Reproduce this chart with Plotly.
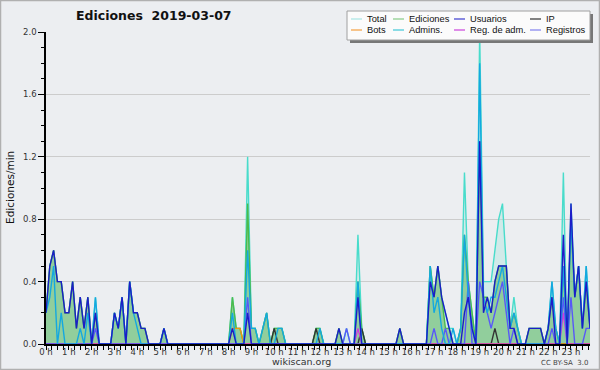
import plotly.graph_objects as go

# 10-minute bins, values in edits/min (144 bins: 0h00 .. 23h50)
hour_labels = [f"{h} h" for h in range(24)]

total = [
    0.2, 0.5, 0.6, 0.4, 0.4, 0.2, 0.2, 0.4, 0.1, 0.3, 0.1, 0.3,
    0.0, 0.3, 0.0, 0.0, 0.0, 0.0, 0.2, 0.1, 0.3, 0.0, 0.4, 0.2,
    0.2, 0.1, 0.1, 0.0, 0.0, 0.0, 0.0, 0.1, 0.0, 0.0, 0.0, 0.0,
    0.0, 0.0, 0.0, 0.0, 0.0, 0.0, 0.0, 0.0, 0.0, 0.0, 0.0, 0.0,
    0.0, 0.3, 0.1, 0.1, 0.0, 1.2, 0.1, 0.1, 0.0, 0.1, 0.2, 0.0,
    0.1, 0.1, 0.1, 0.0, 0.0, 0.0, 0.0, 0.0, 0.0, 0.0, 0.0, 0.1,
    0.1, 0.0, 0.0, 0.0, 0.0, 0.1, 0.0, 0.1, 0.0, 0.0, 0.7, 0.1,
    0.0, 0.0, 0.0, 0.0, 0.0, 0.0, 0.0, 0.0, 0.0, 0.1, 0.0, 0.0,
    0.0, 0.0, 0.0, 0.0, 0.0, 0.5, 0.3, 0.5, 0.3, 0.2, 0.1, 0.1,
    0.0, 0.1, 1.1, 0.4, 0.2, 0.0, 2.0, 0.4, 0.4, 0.4, 0.6, 0.8,
    0.9, 0.5, 0.1, 0.3, 0.1, 0.0, 0.0, 0.1, 0.1, 0.1, 0.1, 0.0,
    0.1, 0.4, 0.1, 0.0, 1.1, 0.0, 0.9, 0.3, 0.5, 0.1, 0.5, 0.1,
]
ediciones = [
    0.2, 0.5, 0.6, 0.4, 0.4, 0.2, 0.2, 0.4, 0.1, 0.3, 0.1, 0.3,
    0.0, 0.2, 0.0, 0.0, 0.0, 0.0, 0.2, 0.1, 0.3, 0.0, 0.4, 0.2,
    0.2, 0.1, 0.1, 0.0, 0.0, 0.0, 0.0, 0.1, 0.0, 0.0, 0.0, 0.0,
    0.0, 0.0, 0.0, 0.0, 0.0, 0.0, 0.0, 0.0, 0.0, 0.0, 0.0, 0.0,
    0.0, 0.3, 0.1, 0.1, 0.0, 0.9, 0.1, 0.1, 0.0, 0.1, 0.2, 0.0,
    0.1, 0.1, 0.1, 0.0, 0.0, 0.0, 0.0, 0.0, 0.0, 0.0, 0.0, 0.1,
    0.1, 0.0, 0.0, 0.0, 0.0, 0.1, 0.0, 0.0, 0.0, 0.0, 0.4, 0.1,
    0.0, 0.0, 0.0, 0.0, 0.0, 0.0, 0.0, 0.0, 0.0, 0.1, 0.0, 0.0,
    0.0, 0.0, 0.0, 0.0, 0.0, 0.5, 0.3, 0.5, 0.3, 0.1, 0.1, 0.0,
    0.0, 0.1, 0.7, 0.4, 0.2, 0.0, 1.3, 0.3, 0.3, 0.2, 0.4, 0.5,
    0.5, 0.5, 0.1, 0.2, 0.1, 0.0, 0.0, 0.1, 0.1, 0.1, 0.1, 0.0,
    0.1, 0.3, 0.1, 0.0, 0.5, 0.0, 0.8, 0.3, 0.5, 0.1, 0.4, 0.1,
]
usuarios = [
    0.2, 0.5, 0.6, 0.4, 0.4, 0.2, 0.2, 0.4, 0.1, 0.3, 0.1, 0.3,
    0.0, 0.2, 0.0, 0.0, 0.0, 0.0, 0.2, 0.1, 0.3, 0.0, 0.4, 0.2,
    0.2, 0.1, 0.1, 0.0, 0.0, 0.0, 0.0, 0.1, 0.0, 0.0, 0.0, 0.0,
    0.0, 0.0, 0.0, 0.0, 0.0, 0.0, 0.0, 0.0, 0.0, 0.0, 0.0, 0.0,
    0.0, 0.1, 0.0, 0.0, 0.0, 0.2, 0.0, 0.0, 0.0, 0.0, 0.0, 0.0,
    0.0, 0.0, 0.0, 0.0, 0.0, 0.0, 0.0, 0.0, 0.0, 0.0, 0.0, 0.0,
    0.0, 0.0, 0.0, 0.0, 0.0, 0.1, 0.0, 0.0, 0.0, 0.0, 0.3, 0.0,
    0.0, 0.0, 0.0, 0.0, 0.0, 0.0, 0.0, 0.0, 0.0, 0.1, 0.0, 0.0,
    0.0, 0.0, 0.0, 0.0, 0.0, 0.4, 0.3, 0.5, 0.3, 0.2, 0.1, 0.0,
    0.0, 0.0, 0.2, 0.3, 0.1, 0.0, 1.3, 0.2, 0.3, 0.2, 0.4, 0.5,
    0.5, 0.5, 0.1, 0.1, 0.0, 0.0, 0.0, 0.1, 0.1, 0.1, 0.1, 0.0,
    0.1, 0.3, 0.0, 0.0, 0.7, 0.0, 0.9, 0.3, 0.5, 0.1, 0.4, 0.1,
]
ip = [
    0.0, 0.0, 0.0, 0.0, 0.0, 0.0, 0.0, 0.0, 0.0, 0.0, 0.0, 0.0,
    0.0, 0.0, 0.0, 0.0, 0.0, 0.0, 0.0, 0.0, 0.0, 0.0, 0.0, 0.0,
    0.0, 0.0, 0.0, 0.0, 0.0, 0.0, 0.0, 0.0, 0.0, 0.0, 0.0, 0.0,
    0.0, 0.0, 0.0, 0.0, 0.0, 0.0, 0.0, 0.0, 0.0, 0.0, 0.0, 0.0,
    0.0, 0.0, 0.0, 0.0, 0.0, 0.0, 0.0, 0.0, 0.0, 0.0, 0.0, 0.0,
    0.1, 0.0, 0.0, 0.0, 0.0, 0.0, 0.0, 0.0, 0.0, 0.0, 0.0, 0.1,
    0.0, 0.0, 0.0, 0.0, 0.0, 0.0, 0.0, 0.0, 0.0, 0.0, 0.0, 0.1,
    0.0, 0.0, 0.0, 0.0, 0.0, 0.0, 0.0, 0.0, 0.0, 0.0, 0.0, 0.0,
    0.0, 0.0, 0.0, 0.0, 0.0, 0.0, 0.0, 0.0, 0.0, 0.0, 0.0, 0.0,
    0.0, 0.0, 0.0, 0.0, 0.0, 0.0, 0.0, 0.0, 0.0, 0.0, 0.1, 0.0,
    0.0, 0.0, 0.0, 0.0, 0.0, 0.0, 0.0, 0.0, 0.0, 0.0, 0.0, 0.0,
    0.0, 0.0, 0.0, 0.0, 0.0, 0.0, 0.0, 0.0, 0.0, 0.0, 0.0, 0.0,
]
bots = [
    0.0, 0.0, 0.0, 0.0, 0.0, 0.0, 0.0, 0.0, 0.0, 0.0, 0.0, 0.0,
    0.0, 0.0, 0.0, 0.0, 0.0, 0.0, 0.0, 0.0, 0.0, 0.0, 0.0, 0.0,
    0.0, 0.0, 0.0, 0.0, 0.0, 0.0, 0.0, 0.0, 0.0, 0.0, 0.0, 0.0,
    0.0, 0.0, 0.0, 0.0, 0.0, 0.0, 0.0, 0.0, 0.0, 0.0, 0.0, 0.0,
    0.0, 0.1, 0.1, 0.1, 0.0, 0.0, 0.0, 0.0, 0.0, 0.0, 0.0, 0.0,
    0.0, 0.0, 0.0, 0.0, 0.0, 0.0, 0.0, 0.0, 0.0, 0.0, 0.0, 0.0,
    0.0, 0.0, 0.0, 0.0, 0.0, 0.0, 0.0, 0.0, 0.0, 0.0, 0.0, 0.0,
    0.0, 0.0, 0.0, 0.0, 0.0, 0.0, 0.0, 0.0, 0.0, 0.0, 0.0, 0.0,
    0.0, 0.0, 0.0, 0.0, 0.0, 0.0, 0.0, 0.0, 0.0, 0.0, 0.0, 0.0,
    0.0, 0.0, 0.0, 0.0, 0.0, 0.0, 0.0, 0.0, 0.0, 0.0, 0.0, 0.0,
    0.0, 0.0, 0.0, 0.0, 0.0, 0.0, 0.0, 0.0, 0.0, 0.0, 0.0, 0.0,
    0.0, 0.0, 0.0, 0.0, 0.0, 0.0, 0.0, 0.0, 0.0, 0.0, 0.0, 0.0,
]
admins = [
    0.2, 0.3, 0.5, 0.0, 0.2, 0.0, 0.0, 0.0, 0.0, 0.1, 0.0, 0.2,
    0.0, 0.3, 0.0, 0.0, 0.0, 0.0, 0.2, 0.1, 0.3, 0.0, 0.4, 0.2,
    0.1, 0.0, 0.0, 0.0, 0.0, 0.0, 0.0, 0.1, 0.0, 0.0, 0.0, 0.0,
    0.0, 0.0, 0.0, 0.0, 0.0, 0.0, 0.0, 0.0, 0.0, 0.0, 0.0, 0.0,
    0.0, 0.2, 0.0, 0.0, 0.0, 0.6, 0.1, 0.1, 0.0, 0.1, 0.2, 0.0,
    0.0, 0.1, 0.1, 0.0, 0.0, 0.0, 0.0, 0.0, 0.0, 0.0, 0.0, 0.0,
    0.1, 0.0, 0.0, 0.0, 0.0, 0.0, 0.0, 0.0, 0.0, 0.0, 0.4, 0.0,
    0.0, 0.0, 0.0, 0.0, 0.0, 0.0, 0.0, 0.0, 0.0, 0.0, 0.0, 0.0,
    0.0, 0.0, 0.0, 0.0, 0.0, 0.5, 0.2, 0.3, 0.1, 0.0, 0.0, 0.1,
    0.0, 0.1, 0.7, 0.3, 0.1, 0.0, 1.8, 0.3, 0.2, 0.3, 0.3, 0.4,
    0.5, 0.3, 0.1, 0.2, 0.1, 0.0, 0.0, 0.0, 0.0, 0.0, 0.0, 0.0,
    0.1, 0.4, 0.1, 0.0, 0.5, 0.0, 0.8, 0.3, 0.5, 0.1, 0.5, 0.1,
]
reg_adm = [
    0.0, 0.0, 0.0, 0.0, 0.0, 0.0, 0.0, 0.0, 0.0, 0.0, 0.0, 0.0,
    0.0, 0.0, 0.0, 0.0, 0.0, 0.0, 0.0, 0.0, 0.0, 0.0, 0.0, 0.0,
    0.0, 0.0, 0.0, 0.0, 0.0, 0.0, 0.0, 0.0, 0.0, 0.0, 0.0, 0.0,
    0.0, 0.0, 0.0, 0.0, 0.0, 0.0, 0.0, 0.0, 0.0, 0.0, 0.0, 0.0,
    0.0, 0.0, 0.0, 0.0, 0.0, 0.0, 0.0, 0.0, 0.0, 0.0, 0.0, 0.0,
    0.0, 0.0, 0.0, 0.0, 0.0, 0.0, 0.0, 0.0, 0.0, 0.0, 0.0, 0.0,
    0.0, 0.0, 0.0, 0.0, 0.0, 0.0, 0.0, 0.0, 0.0, 0.0, 0.1, 0.0,
    0.0, 0.0, 0.0, 0.0, 0.0, 0.0, 0.0, 0.0, 0.0, 0.0, 0.0, 0.0,
    0.0, 0.0, 0.0, 0.0, 0.0, 0.0, 0.0, 0.0, 0.0, 0.0, 0.0, 0.0,
    0.0, 0.0, 0.0, 0.0, 0.0, 0.0, 0.0, 0.0, 0.0, 0.0, 0.0, 0.0,
    0.0, 0.0, 0.0, 0.0, 0.0, 0.0, 0.0, 0.0, 0.0, 0.0, 0.0, 0.0,
    0.0, 0.0, 0.0, 0.0, 0.2, 0.0, 0.0, 0.0, 0.0, 0.0, 0.0, 0.0,
]
registros = [
    0.0, 0.0, 0.0, 0.0, 0.0, 0.0, 0.0, 0.0, 0.0, 0.0, 0.0, 0.0,
    0.0, 0.1, 0.0, 0.0, 0.0, 0.0, 0.0, 0.0, 0.0, 0.0, 0.0, 0.0,
    0.0, 0.0, 0.0, 0.0, 0.0, 0.0, 0.0, 0.0, 0.0, 0.0, 0.0, 0.0,
    0.0, 0.0, 0.0, 0.0, 0.0, 0.0, 0.0, 0.0, 0.0, 0.0, 0.0, 0.0,
    0.0, 0.0, 0.0, 0.0, 0.0, 0.3, 0.0, 0.0, 0.0, 0.0, 0.0, 0.0,
    0.0, 0.0, 0.0, 0.0, 0.0, 0.0, 0.0, 0.0, 0.0, 0.0, 0.0, 0.0,
    0.0, 0.0, 0.0, 0.0, 0.0, 0.0, 0.0, 0.1, 0.0, 0.0, 0.0, 0.0,
    0.0, 0.0, 0.0, 0.0, 0.0, 0.0, 0.0, 0.0, 0.0, 0.0, 0.0, 0.0,
    0.0, 0.0, 0.0, 0.0, 0.0, 0.0, 0.1, 0.0, 0.0, 0.1, 0.0, 0.0,
    0.0, 0.0, 0.0, 0.4, 0.0, 0.0, 0.4, 0.3, 0.2, 0.1, 0.2, 0.3,
    0.4, 0.2, 0.0, 0.1, 0.0, 0.0, 0.0, 0.0, 0.0, 0.0, 0.0, 0.0,
    0.0, 0.1, 0.0, 0.0, 0.3, 0.0, 0.3, 0.0, 0.0, 0.0, 0.1, 0.1,
]

bins = list(range(len(total)))

# plot area in pixels
W, H = 600, 370
L, R, T, B = 46, 10, 32, 26
PW, PH = W - L - R, H - T - B


def px(x):
    return (x - L) / PW


def py(y):
    return (H - B - y) / PH


FONT = "DejaVu Sans, sans-serif"
LFONT = "Liberation Sans, Arial, sans-serif"

fig = go.Figure()

# filled areas
fig.add_trace(go.Scatter(x=bins, y=total, mode="lines", fill="tozeroy",
                         fillcolor="rgba(165,230,222,0.38)",
                         line=dict(color="#48dccb", width=1.4), name="Total"))
fig.add_trace(go.Scatter(x=bins, y=ediciones, mode="lines", fill="tozeroy",
                         fillcolor="rgba(110,190,115,0.65)",
                         line=dict(color="#4cbb4c", width=1.4), name="Ediciones"))
# lines
line_series = [
    ("IP", ip, "#333333"),
    ("Bots", bots, "#f0960f"),
    ("Reg. de adm.", reg_adm, "#d040d8"),
    ("Registros", registros, "#5858f8"),
    ("Admins.", admins, "#14a8e0"),
    ("Usuarios", usuarios, "#1c1cc8"),
]
for name, vals, col in line_series:
    fig.add_trace(go.Scatter(x=bins, y=vals, mode="lines", name=name,
                             line=dict(color=col, width=1.4)))

shapes = []
annotations = []

# outer frame
shapes.append(dict(type="rect", xref="paper", yref="paper",
                   x0=px(0.5), x1=px(W - 0.5), y0=py(H - 0.5), y1=py(0.5),
                   line=dict(color="#b0b0b0", width=1.5), layer="below"))

# legend box with shadow
lx0, lx1, ly0, ly1 = 347, 590, 11, 40
shapes.append(dict(type="rect", xref="paper", yref="paper",
                   x0=px(lx0 + 3), x1=px(lx1 + 3), y0=py(ly1 + 3), y1=py(ly0 + 3),
                   fillcolor="#777777", line=dict(width=0)))
shapes.append(dict(type="rect", xref="paper", yref="paper",
                   x0=px(lx0), x1=px(lx1), y0=py(ly1), y1=py(ly0),
                   fillcolor="#fbfbfb", line=dict(color="#a0a0a0", width=1)))

r1, r2 = 19.0, 30.0
legend_items = [
    ("Total", "#a8e6e4", 351, 366, r1),
    ("Ediciones", "#88cc88", 393, 408, r1),
    ("Usuarios", "#3c3cd0", 454, 469, r1),
    ("IP", "#333333", 530, 545, r1),
    ("Bots", "#f5a040", 351, 366, r2),
    ("Admins.", "#40c8d8", 393, 408, r2),
    ("Reg. de adm.", "#cc44dd", 454, 469, r2),
    ("Registros", "#8080ee", 530, 545, r2),
]
for label, col, sx, tx, yy in legend_items:
    shapes.append(dict(type="line", xref="paper", yref="paper",
                       x0=px(sx), x1=px(sx + 11), y0=py(yy), y1=py(yy),
                       line=dict(color=col, width=1.2)))
    annotations.append(dict(text=label, xref="paper", yref="paper",
                            x=px(tx), y=py(yy), xanchor="left", yanchor="middle",
                            showarrow=False, borderpad=0,
                            font=dict(family=LFONT, size=9.3, color="#111111")))

# title
annotations.append(dict(text="<b>Ediciones  2019-03-07</b>", xref="paper", yref="paper",
                        x=px(154), y=py(16), xanchor="center", yanchor="middle",
                        showarrow=False, font=dict(family=FONT, size=12.5, color="#111111")))
# y axis title
annotations.append(dict(text="Ediciones/min", xref="paper", yref="paper",
                        x=px(10), y=py(188), xanchor="center", yanchor="middle",
                        textangle=-90, showarrow=False,
                        font=dict(family=FONT, size=10.5, color="#111111")))
annotations.append(dict(text="wikiscan.org", xref="paper", yref="paper",
                        x=px(301), y=py(361), xanchor="center", yanchor="middle",
                        showarrow=False, font=dict(family=FONT, size=9.5, color="#333333")))
annotations.append(dict(text="CC BY-SA  3.0", xref="paper", yref="paper",
                        x=px(590), y=py(362.5), xanchor="right", yanchor="middle",
                        showarrow=False, font=dict(family=FONT, size=7, color="#444444")))

fig.update_layout(
    width=W, height=H,
    margin=dict(l=L, r=R, t=T, b=B, pad=0),
    paper_bgcolor="#eceef1", plot_bgcolor="#eceef1",
    showlegend=False,
    shapes=shapes, annotations=annotations,
    font=dict(family=FONT, color="#333333"),
)
fig.update_xaxes(
    range=[0, 143], tickmode="array", tickvals=[h * 6 for h in range(24)],
    ticktext=hour_labels, ticks="outside", ticklen=4, tickwidth=1, tickcolor="black",
    ticklabelstandoff=-5,
    minor=dict(dtick=1.5, tick0=0, ticks="outside", ticklen=4, tickcolor="black", tickwidth=1),
    showline=True, linecolor="black", linewidth=1.5, showgrid=False, zeroline=False,
    tickfont=dict(family=FONT, size=8.5, color="#333333"),
)
fig.update_yaxes(
    range=[0, 2.0], dtick=0.4, tick0=0, tickformat=".1f",
    ticks="outside", ticklen=6, tickwidth=1, tickcolor="black",
    minor=dict(dtick=0.1, tick0=0, ticks="outside", ticklen=3, tickcolor="black", tickwidth=1,
               showgrid=False),
    showline=True, linecolor="black", linewidth=1.5,
    showgrid=True, gridcolor="#cccccc", gridwidth=1, zeroline=False,
    tickfont=dict(family=FONT, size=8.5, color="#333333"),
)

fig.write_html("out.html")
